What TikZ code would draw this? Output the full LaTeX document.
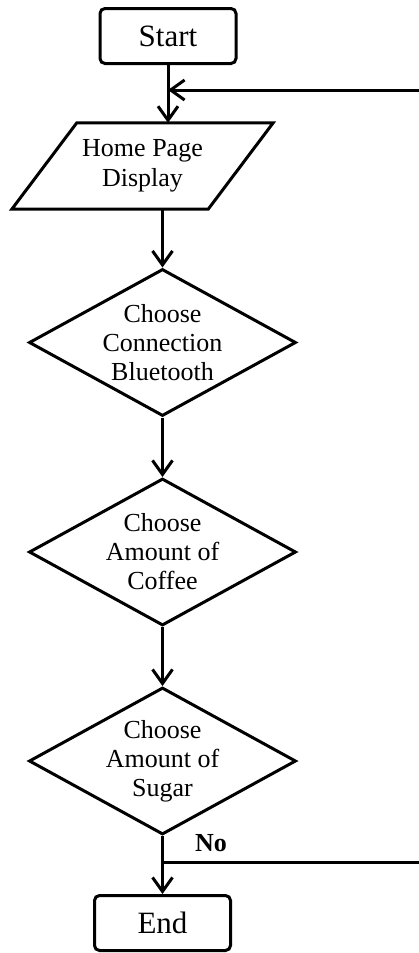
\documentclass[tikz,border=0pt]{standalone}
\usepackage{fontspec}
\setmainfont{Liberation Serif}
\usetikzlibrary{shapes.geometric,arrows.meta}
\begin{document}
\begin{tikzpicture}[x=1pt,y=1pt,
  term/.style={draw, line width=3pt, rounded corners=5pt, minimum width=136pt, minimum height=55pt, inner sep=0pt, font=\fontsize{31}{34}\selectfont},
  dec/.style={draw, line width=3pt, diamond, aspect=1.8, minimum width=267pt, minimum height=147pt, inner sep=0pt, align=center, font=\fontsize{26}{29}\selectfont},
  io/.style={minimum width=196pt, minimum height=86pt, inner sep=0pt, align=center, font=\fontsize{26}{30}\selectfont},
  flow/.style={-{Straight Barb[length=14pt,width=20pt]}, line width=3pt},
  plain/.style={line width=3pt},
  lbl/.style={inner sep=0pt, font=\bfseries\fontsize{26}{28}\selectfont}
]
\useasboundingbox (0,0) rectangle (418,-953);
\node[term] (start) at (168,-36) {Start};
\node[io] (home) at (142.5,-166) {Home Page\\Display};
\draw[plain] ([xshift=-32.5pt]home.south west) -- ([xshift=-32.5pt]home.south east) -- ([xshift=32.5pt]home.north east) -- ([xshift=32.5pt]home.north west) -- cycle;
\node[dec] (d1) at (162.5,-342.5) {Choose\\Connection\\Bluetooth};
\node[dec] (d2) at (162.5,-552) {Choose\\Amount of\\Coffee};
\node[dec] (d3) at (162.5,-761) {Choose\\Amount of\\Sugar};
\node[term] (end) at (162.5,-923) {End};
\coordinate (fb) at (420,-90);
\coordinate (no) at (420,-862);
\node[lbl] (nolabel) at (211,-843) {No};
\draw[flow] (start.south) -- (start.south |- home.north);
\draw[flow] (fb) -- (start.south |- fb);
\draw[flow] (d1.north |- home.south) -- (d1.north);
\draw[flow] (d1.south) -- (d2.north);
\draw[flow] (d2.south) -- (d3.north);
\draw[flow] (d3.south) -- (end.north);
\draw[plain] (no) -- (d3.south |- no);
\end{tikzpicture}
\end{document}
